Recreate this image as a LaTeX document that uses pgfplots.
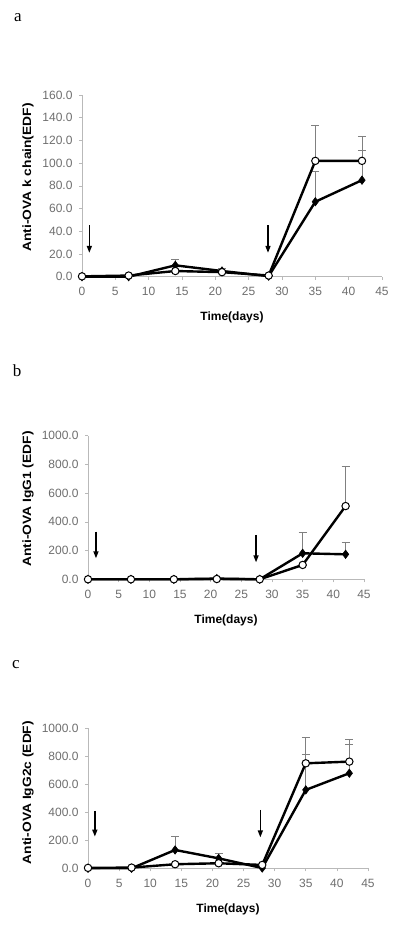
\documentclass[border=0pt]{standalone}
\usepackage{fontspec}
\setmainfont{Liberation Serif}
\newfontfamily\arial{Liberation Sans}
\usepackage{pgfplots}
\pgfplotsset{compat=1.18}
\usetikzlibrary{arrows.meta}
\definecolor{axgray}{RGB}{185,185,185}
\definecolor{tkgray}{RGB}{110,110,110}
\pgfplotsset{
 panel/.style={
  scale only axis, anchor=south west, xmin=0, xmax=45, ymin=0,
  axis x line=bottom, axis y line=left,
  axis line style={-, axgray, line width=0.6pt},
  xtick={0,5,...,45}, tick style={axgray, line width=0.6pt},
  major tick length=3pt, tick align=outside,
  ticklabel style={font=\arial\fontsize{12}{14}\selectfont, text=tkgray},
  /pgf/number format/assume math mode=true,
  scaled y ticks=false,
  yticklabel style={/pgf/number format/fixed, /pgf/number format/fixed zerofill,
     /pgf/number format/precision=1, /pgf/number format/1000 sep={}},
  xticklabel style={yshift=-4pt},
  yticklabel style={xshift=-3pt},
  label style={font=\arial\bfseries\fontsize{12}{14}\selectfont},
  xlabel={Time(days)},
  xlabel style={at={(axis description cs:0.5,0)}, anchor=center, yshift=-41pt},
  clip=false,
 },
 eb/.style={/pgfplots/error bars/y dir=plus, /pgfplots/error bars/y explicit,
   /pgfplots/error bars/error bar style={gray, line width=0.7pt},
   /pgfplots/error bars/error mark options={rotate=90, mark size=4pt, gray, line width=0.7pt}},
 dia/.style={black, line width=2.4pt, mark=diamond*, mark size=4.2pt,
   mark options={solid, fill=black, line width=0.6pt}},
 circ/.style={black, line width=2.4pt, mark=*, mark size=3.7pt,
   mark options={solid, fill=white, line width=1pt}},
}
\tikzset{arr/.style={black, line width=1.5pt, -{Triangle[length=7pt,width=5pt]}}}
\begin{document}
\begin{tikzpicture}
\useasboundingbox (0pt,0pt) rectangle (400pt,930pt);
\node[font=\fontsize{17}{19}\selectfont] at (18pt,912pt) {a};
\node[font=\fontsize{17}{19}\selectfont] at (17pt,559pt) {b};
\node[font=\fontsize{17}{19}\selectfont] at (16pt,265pt) {c};

% panel a
\begin{axis}[panel, at={(82pt,653.3pt)}, width=300pt, height=181.7pt,
  ymax=160, ytick={0,20,...,160},
  ylabel={\scalebox{1.15}[1]{Anti-OVA k chain(EDF)}},
  ylabel style={at={(axis description cs:-0.18,0.546)}, anchor=center}]
\addplot[dia, eb] coordinates {(0,0) +- (0,0) (7,0) +- (0,0) (14,10) +- (0,5) (21,5) +- (0,2) (28,0.5) +- (0,0) (35,66) +- (0,27) (42,85) +- (0,26)};
\addplot[circ, eb] coordinates {(0,0.3) +- (0,0) (7,1) +- (0,0) (14,5) +- (0,1) (21,4) +- (0,1) (28,1) +- (0,0) (35,102) +- (0,31) (42,102) +- (0,22)};
\draw[arr] (axis cs:1.1,45.5) -- (axis cs:1.1,21);
\draw[arr] (axis cs:27.9,45.5) -- (axis cs:27.9,21);
\end{axis}

% panel b
\begin{axis}[panel, at={(88pt,350.7pt)}, width=276pt, height=143.6pt,
  ymax=1000, ytick={0,200,...,1000},
  ylabel={\scalebox{1.15}[1]{Anti-OVA IgG1 (EDF)}},
  ylabel style={at={(axis description cs:-0.217,0.559)}, anchor=center}]
\addplot[dia, eb] coordinates {(0,0) +- (0,0) (7,0) +- (0,0) (14,0) +- (0,0) (21,5) +- (0,0) (28,0) +- (0,0) (35,181) +- (0,144) (42,174) +- (0,81)};
\addplot[circ, eb] coordinates {(0,0) +- (0,0) (7,0) +- (0,0) (14,0) +- (0,0) (21,2) +- (0,0) (28,0) +- (0,0) (35,100) +- (0,0) (42,510) +- (0,279)};
\draw[arr] (axis cs:1.3,332) -- (axis cs:1.3,146);
\draw[arr] (axis cs:27.4,309) -- (axis cs:27.4,118);
\end{axis}

% panel c
\begin{axis}[panel, at={(88pt,61.7pt)}, width=280pt, height=140pt,
  ymax=1000, ytick={0,200,...,1000},
  ylabel={\scalebox{1.15}[1]{Anti-OVA IgG2c (EDF)}},
  ylabel style={at={(axis description cs:-0.214,0.541)}, anchor=center}]
\addplot[dia, eb] coordinates {(0,0) +- (0,0) (7,0) +- (0,0) (14,131) +- (0,99) (21,71) +- (0,36) (28,2) +- (0,0) (35,560) +- (0,257) (42,679) +- (0,209)};
\addplot[circ, eb] coordinates {(0,3) +- (0,0) (7,5) +- (0,0) (14,29) +- (0,0) (21,36) +- (0,0) (28,24) +- (0,0) (35,750) +- (0,183) (42,762) +- (0,159)};
\draw[arr] (axis cs:1.1,410) -- (axis cs:1.1,226);
\draw[arr] (axis cs:27.7,417) -- (axis cs:27.7,221);
\end{axis}
\end{tikzpicture}
\end{document}
